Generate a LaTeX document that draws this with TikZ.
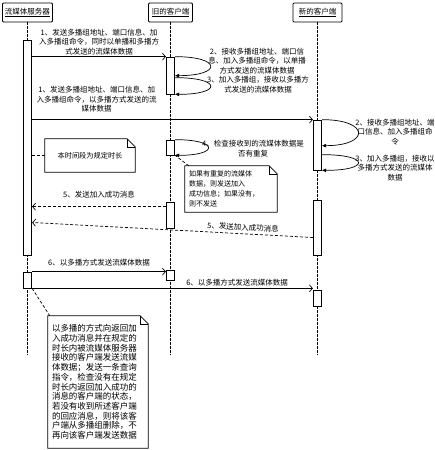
\documentclass[tikz,border=0pt]{standalone}
\usepackage{fontspec}
\newfontfamily\cjk{Noto Sans CJK SC}
\usetikzlibrary{arrows.meta}

% note outline with a folded corner round a named node
\newcommand{\notefold}[1]{%
  \draw[line width=0.7pt] (#1.north west) -- ([xshift=-8pt]#1.north east) -- ([yshift=-8pt]#1.north east)
    -- (#1.south east) -- (#1.south west) -- cycle;
  \draw[line width=0.5pt] ([xshift=-8pt]#1.north east) -- ([xshift=-8pt,yshift=-8pt]#1.north east)
    -- ([yshift=-8pt]#1.north east);
}

\begin{document}
\begin{tikzpicture}[x=1pt, y=-1pt,
  every node/.style={font=\cjk\fontsize{7.5}{9.5}\selectfont, inner sep=0pt},
  head/.style={draw, line width=0.9pt, rounded corners=1pt, minimum height=19pt},
  lifeline/.style={dash pattern=on 2.5pt off 1.5pt, line width=0.7pt},
  actbar/.style={draw, fill=white, minimum width=8.5pt, line width=0.7pt},
  msg/.style={-{Straight Barb[length=3pt,width=7pt]}, line width=0.7pt},
  reply/.style={msg, dash pattern=on 3pt off 2pt},
  selfloop/.style={-{Triangle[length=4pt,width=3.5pt]}, line width=0.7pt},
  notetie/.style={dash pattern=on 3pt off 2pt, line width=0.7pt}]
\useasboundingbox (0,0) rectangle (435,450);

% heads and lifelines
\node[head, minimum width=50pt] (srv) at (27.5,12.5) {\underline{流媒体服务器}};
\node[head, minimum width=44pt] (old) at (170.5,12.5) {\underline{旧的客户端}};
\node[head, minimum width=49pt] (new) at (317.5,12.5) {\underline{新的客户端}};
\coordinate (srvend) at (27.5,355);
\coordinate (oldend) at (170.5,355);
\coordinate (newend) at (317.5,355);
\draw[lifeline] (srv) -- (srvend);
\draw[lifeline] (old) -- (oldend);
\draw[lifeline] (new) -- (newend);

% activation bars
\node[actbar, minimum height=215pt] (s1) at (27.5,147.5) {};
\node[actbar, minimum height=16pt] (s2) at (27.5,280) {};
\node[actbar, minimum height=37pt] (o1) at (170.5,75.5) {};
\node[actbar, minimum height=15pt] (o2) at (170.5,147.5) {};
\node[actbar, minimum height=26pt] (o3) at (170.5,215) {};
\node[actbar, minimum height=10pt] (o4) at (170.5,275) {};
\node[actbar, minimum height=50pt] (n1) at (317.5,145) {};
\node[actbar, minimum height=55pt] (n2) at (317.5,227.5) {};
\node[actbar, minimum height=16pt] (n3) at (317.5,298) {};

% messages
\draw[msg] (s1.east |- o1.north) -- (o1.north west)
  node[pos=0.5, above=1.5pt, align=center] (m1o) {1、发送多播组地址、端口信息、加\\入多播组命令，同时以单播和多播方\\式发送的流媒体数据};
\draw[msg] (s1.east |- n1.north) -- (n1.north west)
  node[pos=0.23, above=7pt, align=center] (m1n) {1、发送多播组地址、端口信息、加\\入多播组命令，以多播方式发送的流\\媒体数据};
\coordinate (r5a) at ([yshift=-5pt]o3.north west);
\draw[reply] (r5a) -- (r5a -| s1.east)
  node[pos=0.5, above=8pt] (m5o) {5、发送加入成功消息};
\coordinate (r5b) at ([yshift=-10pt]n2.west);
\draw[reply] (r5b) -- ([yshift=-75pt]s1.east)
  node[pos=0.25, above=2.5pt, sloped] (m5n) {5、发送加入成功消息};
\draw[msg] (s2.north east) -- (s2.north east -| o4.west)
  node[pos=0.5, above=5.5pt] (m6o) {6、以多播方式发送流媒体数据};
\draw[msg] (s2.south east) -- (s2.south east -| n3.west)
  node[pos=0.73, above=1.5pt] (m6n) {6、以多播方式发送流媒体数据};

% self calls
\draw[selfloop] (o1.north east) .. controls +(47,0) and +(47,0) .. ([yshift=-19pt]o1.north east);
\draw[selfloop] ([yshift=-21pt]o1.north east) .. controls +(47,0) and +(47,0) .. (o1.south east);
\draw[selfloop] (o2.north east) .. controls +(44,0) and +(44,0) .. (o2.south east);
\draw[selfloop] (n1.north east) .. controls +(48,0) and +(48,0) .. ([yshift=-26pt]n1.north east);
\draw[selfloop] ([yshift=-35pt]n1.north east) .. controls +(48,0) and +(48,0) .. (n1.south east);
\node[align=center] (t2o) at (257,61) {2、接收多播组地址、端口信\\息、加入多播组命令，以单播\\方式发送的流媒体数据};
\node[align=center] (t3o) at (258,84.5) {3、加入多播组，接收以多播方\\式发送的流媒体数据};
\node[align=center] (t4o) at (253,148.5) {4、检查接收到的流媒体数据是\\否有重复};
\node[align=center] (t2n) at (395,132) {2、接收多播组地址、端\\口信息、加入多播组命\\令};
\node[align=center] (t3n) at (395,168) {3、加入多播组，接收以\\多播方式发送的流媒体\\数据};

% notes
\node[minimum width=90pt, minimum height=33pt, font=\cjk\fontsize{7.2}{9}\selectfont] (tlim) at (90,155.5) {本时间段为规定时长};
\notefold{tlim}
\draw[notetie] (tlim.west) -- (tlim.west -| s1.east);
\node[minimum width=92pt, minimum height=46pt, text width=84pt, align=left,
  font=\cjk\fontsize{7}{10}\selectfont] (dup) at (231,189)
  {如果有重复的流媒体\\数据，则发送加入\\成功信息；如果没有，\\则不发送};
\notefold{dup}
\draw[notetie] ([xshift=4pt]dup.north west) -- (o2.south east);
\node[minimum width=100pt, minimum height=132pt, text width=92pt, align=left,
  font=\cjk\fontsize{8.5}{9.7}\selectfont] (drop) at (98,382)
  {以多播的方式向返回加\\入成功消息并在规定的\\时长内被流媒体服务器\\接收的客户端发送流媒\\体数据；发送一条查询\\指令，检查没有在规定\\时长内返回加入成功的\\消息的客户端的状态，\\若没有收到所述客户端\\的回应消息，则将该客\\户端从多播组删除，不\\再向该客户端发送数据};
\notefold{drop}
\draw[notetie] (s2.south east) -- ([xshift=2pt]drop.north west);
\end{tikzpicture}
\end{document}
